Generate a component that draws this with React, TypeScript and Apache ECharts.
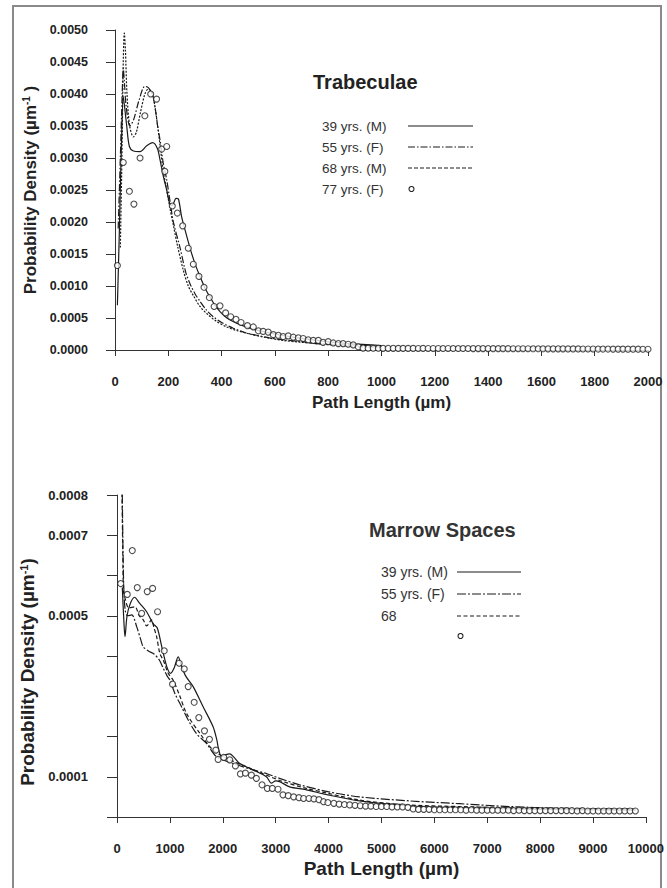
import React, { useEffect, useRef } from "react";
import * as echarts from "echarts";

// ---------- Trabeculae (top panel) ----------
const trabTitle = "Trabeculae";
const trabNames = ["39 yrs. (M)", "55 yrs. (F)", "68 yrs. (M)", "77 yrs. (F)"];
const trabXTicks = [0, 2000, 200];
const trabYTicks = [0, 0.005, 0.0005];

const trab39M: [number, number][] = [
  [9, 0.0007], [16, 0.0018], [24, 0.0032], [31, 0.00396], [36, 0.0038], [44, 0.0035], [54, 0.00318],
  [69, 0.00311], [94, 0.0031], [119, 0.00319], [141, 0.00324], [159, 0.00315], [169, 0.00297],
  [181, 0.00272], [194, 0.0025], [206, 0.00228], [215, 0.00226], [229, 0.00237], [238, 0.00236],
  [250, 0.00208], [260, 0.00192], [281, 0.0016], [300, 0.00135], [319, 0.00115], [340, 0.00095],
  [356, 0.00083], [375, 0.0007], [394, 0.0006], [420, 0.0005], [456, 0.00042], [500, 0.00035],
  [544, 0.0003], [600, 0.00025], [656, 0.00021], [720, 0.00017], [781, 0.00014], [881, 0.0001],
  [1000, 0.00007],
];
const trab55F: [number, number][] = [
  [12, 0.0019], [20, 0.003], [27, 0.004], [31, 0.0044], [35, 0.0042], [42, 0.0038], [56, 0.0035],
  [70, 0.0036], [90, 0.0039], [112, 0.00412], [125, 0.0041], [140, 0.004], [150, 0.0038],
  [160, 0.0035], [169, 0.00328], [181, 0.00292], [194, 0.00266], [206, 0.00234], [219, 0.002],
  [244, 0.0016], [265, 0.00122], [281, 0.00104], [300, 0.00088], [319, 0.00076], [344, 0.00062],
  [369, 0.00052], [400, 0.00043], [444, 0.00034], [490, 0.00027], [531, 0.00023], [580, 0.00019],
  [631, 0.00016], [700, 0.00013], [756, 0.0001], [881, 0.00008], [1000, 0.00006],
];
const trab68M: [number, number][] = [
  [20, 0.0016], [26, 0.003], [31, 0.0045], [35, 0.00495], [39, 0.0047], [45, 0.004], [55, 0.0035],
  [69, 0.00333], [80, 0.0034], [95, 0.0037], [112, 0.004], [125, 0.00408], [140, 0.004],
  [150, 0.0038], [160, 0.0035], [169, 0.0032], [181, 0.0028], [194, 0.0025], [206, 0.00222],
  [219, 0.00195], [235, 0.00162], [256, 0.00125], [275, 0.001], [294, 0.00085], [319, 0.00068],
  [344, 0.00057], [380, 0.00045], [419, 0.00036], [460, 0.0003], [506, 0.00025], [560, 0.0002],
  [631, 0.00015], [700, 0.00012], [756, 0.0001], [881, 0.00006], [1000, 0.00004],
];
const trab77F: [number, number][] = [
  [9, 0.00132], [31, 0.00293], [54, 0.00248], [71, 0.00228], [94, 0.003], [112, 0.00366],
  [134, 0.004], [156, 0.00392], [175, 0.00314], [187, 0.00279], [194, 0.00318], [215, 0.00225],
  [234, 0.00214], [254, 0.00194], [275, 0.00159], [294, 0.00134], [315, 0.00115], [334, 0.00098],
  [354, 0.00082], [372, 0.00068], [394, 0.00069], [415, 0.00058], [434, 0.00052], [454, 0.00048],
  [473, 0.00043], [497, 0.00038], [519, 0.00036], [538, 0.0003], [556, 0.00029], [575, 0.00028],
  [594, 0.00024], [613, 0.00023], [631, 0.00021], [650, 0.00022], [669, 0.0002], [688, 0.00019],
  [706, 0.00018], [725, 0.00016], [744, 0.00015], [763, 0.00015], [781, 0.00012], [800, 0.00013],
  [819, 0.00011], [838, 0.0001], [856, 0.0001], [875, 0.00009], [894, 0.00008], [913, 0.00005],
  [931, 0.00003], [950, 0.000028], [969, 0.000027], [988, 0.000027], [1006, 0.000026],
  [1025, 0.000026], [1044, 0.000026], [1063, 0.000025], [1081, 0.000025], [1100, 0.000025],
  [1119, 0.000025], [1138, 0.000024], [1156, 0.000025], [1175, 0.000024], [1194, 0.000024],
  [1213, 0.000024], [1231, 0.000023], [1250, 0.000024], [1269, 0.000023], [1288, 0.000023],
  [1306, 0.000023], [1325, 0.000023], [1344, 0.000022], [1363, 0.000022], [1381, 0.000022],
  [1400, 0.000022], [1419, 0.000021], [1438, 0.000021], [1456, 0.000021], [1475, 0.000021],
  [1494, 0.00002], [1513, 0.00002], [1531, 0.00002], [1550, 0.00002], [1569, 0.000019],
  [1588, 0.000019], [1606, 0.000019], [1625, 0.000018], [1644, 0.000018], [1663, 0.000018],
  [1681, 0.000018], [1700, 0.000017], [1719, 0.000017], [1738, 0.000017], [1756, 0.000016],
  [1775, 0.000016], [1794, 0.000016], [1813, 0.000015], [1831, 0.000015], [1850, 0.000015],
  [1869, 0.000014], [1888, 0.000014], [1906, 0.000014], [1925, 0.000013], [1944, 0.000013],
  [1963, 0.000013], [1981, 0.000012], [2000, 0.000012],
];

// ---------- Marrow spaces (bottom panel) ----------
const marrowTitle = "Marrow Spaces";
const marrowNames = ["39 yrs. (M)", "55 yrs. (F)", "68", ""];
const marrowXTicks = [0, 10000, 1000];
const marrowYTicks = [0, 0.0008, 0.0001];
const marrowYLabels = ["0.0008", "0.0007", "0.0005", "0.0001"];

const marrow39M: [number, number][] = [
  [100, 0.00057], [125, 0.0005], [151, 0.000448], [190, 0.0005], [250, 0.00053], [330, 0.000546],
  [434, 0.00053], [560, 0.00051], [685, 0.00048], [760, 0.00047], [843, 0.000425], [938, 0.000375],
  [1013, 0.000357], [1080, 0.00037], [1157, 0.000398], [1220, 0.000375], [1300, 0.00035],
  [1440, 0.000324], [1628, 0.000274], [1817, 0.000224], [1890, 0.00019], [1911, 0.000175],
  [1975, 0.00015], [2060, 0.000155], [2132, 0.000157], [2200, 0.00015], [2321, 0.000133],
  [2572, 0.000117], [2824, 0.0001], [2918, 0.000084], [3000, 0.00009], [3075, 0.000088],
  [3264, 0.000075], [3566, 0.000068], [3987, 0.000055], [4585, 0.00004], [5528, 0.000028],
  [6500, 0.000023], [7500, 0.00002], [8500, 0.000018], [9800, 0.000017],
];
const marrow55F: [number, number][] = [
  [85, 0.00095], [100, 0.0008], [115, 0.00065], [132, 0.000556], [160, 0.00051], [200, 0.0005],
  [280, 0.000502], [372, 0.000473], [450, 0.00044], [496, 0.000423], [600, 0.000412],
  [700, 0.000405], [800, 0.00039], [874, 0.00037], [950, 0.00035], [1000, 0.00034],
  [1094, 0.000307], [1220, 0.000274], [1346, 0.000241], [1503, 0.000207], [1692, 0.000183],
  [1881, 0.00015], [2195, 0.000133], [2572, 0.000117], [2824, 0.000108], [3075, 0.000096],
  [3453, 0.00008], [3987, 0.000063], [4585, 0.00005], [5528, 0.00004], [6472, 0.000033],
  [7415, 0.000026], [8358, 0.000022], [9805, 0.00002],
];
const marrow68: [number, number][] = [
  [80, 0.00095], [95, 0.0008], [110, 0.00065], [125, 0.00056], [160, 0.00054], [220, 0.00052],
  [340, 0.000522], [420, 0.0005], [496, 0.00049], [560, 0.000475], [600, 0.00048], [650, 0.00049],
  [700, 0.00047], [749, 0.000448], [811, 0.000406], [874, 0.00039], [968, 0.000357],
  [1062, 0.00034], [1189, 0.0003], [1315, 0.000257], [1566, 0.000208], [1817, 0.000166],
  [2070, 0.000146], [2447, 0.000125], [2824, 0.000104], [3138, 0.000088], [3579, 0.000071],
  [3987, 0.000059], [4585, 0.000042], [5500, 0.00003], [6472, 0.000026], [8358, 0.00002],
  [9805, 0.000019],
];
const marrowCircles: [number, number][] = [
  [70, 0.00058], [194, 0.000553], [289, 0.000662], [383, 0.00057], [466, 0.000506], [572, 0.00056],
  [673, 0.000568], [767, 0.00051], [893, 0.000413], [1050, 0.00033], [1176, 0.000382],
  [1271, 0.000368], [1346, 0.000324], [1459, 0.000285], [1547, 0.000247], [1654, 0.000214],
  [1748, 0.000193], [1868, 0.000166], [1912, 0.000143], [2019, 0.000148], [2132, 0.000142],
  [2239, 0.000127], [2334, 0.000107], [2428, 0.000109], [2541, 0.000104], [2635, 0.000096],
  [2742, 0.00008], [2843, 0.000071], [2937, 0.000071], [3044, 0.000069], [3138, 0.000055],
  [3238, 0.000053], [3340, 0.00005], [3440, 0.000048], [3528, 0.000046], [3629, 0.000046],
  [3723, 0.000045], [3818, 0.000043], [3906, 0.000038], [3987, 0.000036], [4100, 0.000034],
  [4200, 0.000032], [4300, 0.000031], [4400, 0.00003], [4500, 0.000029], [4600, 0.000028],
  [4700, 0.000027], [4800, 0.000027], [4900, 0.000026], [5000, 0.000026], [5100, 0.000026],
  [5200, 0.000025], [5300, 0.000025], [5400, 0.000025], [5500, 0.000024], [5600, 0.00002],
  [5700, 0.000019], [5800, 0.000019], [5900, 0.000019], [6000, 0.000018], [6100, 0.000018],
  [6200, 0.000018], [6300, 0.000018], [6400, 0.000018], [6500, 0.000018], [6600, 0.000017],
  [6700, 0.000018], [6800, 0.000017], [6900, 0.000017], [7000, 0.000017], [7100, 0.000017],
  [7200, 0.000017], [7300, 0.000017], [7400, 0.000017], [7500, 0.000016], [7600, 0.000017],
  [7700, 0.000016], [7800, 0.000016], [7900, 0.000016], [8000, 0.000016], [8100, 0.000016],
  [8200, 0.000016], [8300, 0.000016], [8400, 0.000016], [8500, 0.000016], [8600, 0.000016],
  [8700, 0.000015], [8800, 0.000016], [8900, 0.000015], [9000, 0.000015], [9100, 0.000015],
  [9200, 0.000015], [9300, 0.000015], [9400, 0.000015], [9500, 0.000015], [9600, 0.000015],
  [9700, 0.000015], [9800, 0.000015],
];

const FONT = "'Liberation Sans', Arial, Helvetica, sans-serif";
const INK = "#1a1a1a";
const DASHDOT_T = [7, 2, 1.5, 2];
const DOTTED_T = [2, 1.5];
const DASHDOT_M = [9, 2, 2, 2];
const DASHED_M = [4, 2.5];

function lineSeries(name: string, data: [number, number][], idx: number, dash: any) {
  return {
    type: "line",
    name,
    xAxisIndex: idx,
    yAxisIndex: idx,
    data,
    smooth: 0.3,
    symbol: "none",
    showSymbol: false,
    clip: true,
    lineStyle: { color: INK, width: 1.2, type: dash },
    z: 3,
  };
}
function circleSeries(name: string, data: [number, number][], idx: number) {
  return {
    type: "scatter",
    name,
    xAxisIndex: idx,
    yAxisIndex: idx,
    data,
    symbol: "circle",
    symbolSize: 6,
    clip: true,
    itemStyle: { color: "#ffffff", borderColor: "#222", borderWidth: 1.1 },
    z: 4,
  };
}

function legendBlock(names: string[], tx: number, lx1: number, lx2: number, ys: number[],
  dashes: any[], fontSize: number) {
  const els: any[] = [];
  names.forEach((n, i) => {
    if (n) {
      els.push({
        type: "text",
        x: tx,
        y: ys[i],
        style: { text: n, fontFamily: FONT, fontSize, fill: "#333", textAlign: "left", textVerticalAlign: "middle" },
      });
    }
    if (i < 3) {
      els.push({
        type: "line",
        shape: { x1: lx1, y1: ys[i], x2: lx2, y2: ys[i] },
        style: { stroke: INK, lineWidth: 1.2, lineDash: dashes[i] },
      });
    } else {
      els.push({
        type: "circle",
        shape: { cx: lx1 + 3.5, cy: ys[i], r: 2.5 },
        style: { fill: "#fff", stroke: "#222", lineWidth: 1.1 },
      });
    }
  });
  return els;
}

export default function App() {
  const ref = useRef<HTMLDivElement>(null);
  useEffect(() => {
    if (!ref.current) return;
    const chart = echarts.init(ref.current, undefined, { renderer: "svg" });
    const axisLineStyle = { color: "#333", width: 1 };
    const plain = (v: number) => String(v);
    const yName = (fs: number) => ({
      fontFamily: FONT,
      color: "#222",
      rich: {
        a: { fontFamily: FONT, fontSize: fs, fontWeight: "bold", color: "#222" },
        s: { fontFamily: FONT, fontSize: Math.round(fs * 0.6), fontWeight: "bold", color: "#222", verticalAlign: "top" },
      },
    });
    const option: any = {
      animation: false,
      backgroundColor: "#ffffff",
      grid: [
        { left: 115, right: 19, top: 30, bottom: 538 },
        { left: 117, right: 20, top: 495, bottom: 71 },
      ],
      xAxis: [
        {
          gridIndex: 0, type: "value", min: trabXTicks[0], max: trabXTicks[1], interval: trabXTicks[2], offset: 15,
          axisLine: { show: true, lineStyle: axisLineStyle },
          axisTick: { show: true, length: 6, lineStyle: axisLineStyle },
          axisLabel: { margin: 10, fontFamily: FONT, fontWeight: "bold", fontSize: 13, color: "#222", formatter: plain },
          splitLine: { show: false },
          name: "Path Length (µm)", nameLocation: "middle", nameGap: 29,
          nameTextStyle: { fontFamily: FONT, fontWeight: "bold", fontSize: 17, color: "#222" },
        },
        {
          gridIndex: 1, type: "value", min: marrowXTicks[0], max: marrowXTicks[1], interval: marrowXTicks[2], offset: 15,
          axisLine: { show: true, lineStyle: axisLineStyle },
          axisTick: { show: true, length: 6, lineStyle: axisLineStyle },
          axisLabel: { margin: 10, fontFamily: FONT, fontWeight: "bold", fontSize: 13, color: "#222", formatter: plain },
          splitLine: { show: false },
          name: "Path Length (µm)", nameLocation: "middle", nameGap: 27,
          nameTextStyle: { fontFamily: FONT, fontWeight: "bold", fontSize: 19, color: "#222" },
        },
      ],
      yAxis: [
        {
          gridIndex: 0, type: "value", min: trabYTicks[0], max: trabYTicks[1], interval: trabYTicks[2], offset: 15,
          axisLine: { show: true, lineStyle: axisLineStyle },
          axisTick: { show: true, length: 9, lineStyle: axisLineStyle },
          axisLabel: { margin: 12, fontFamily: FONT, fontWeight: "bold", fontSize: 12.5, color: "#222",
            formatter: (v: number) => v.toFixed(4) },
          splitLine: { show: false },
          name: "{a|Probability Density (µm}{s|-1}{a| )}", nameLocation: "middle", nameGap: 60,
          nameTextStyle: yName(17),
        },
        {
          gridIndex: 1, type: "value", min: marrowYTicks[0], max: marrowYTicks[1], interval: marrowYTicks[2], offset: 14,
          axisLine: { show: true, lineStyle: axisLineStyle },
          axisTick: { show: true, length: 10, lineStyle: axisLineStyle },
          axisLabel: { margin: 15, fontFamily: FONT, fontWeight: "bold", fontSize: 13, color: "#222",
            formatter: (v: number) => {
              const s = v.toFixed(4);
              return marrowYLabels.indexOf(s) >= 0 ? s : "";
            } },
          splitLine: { show: false },
          name: "{a|Probability Density (µm}{s|-1}{a|)}", nameLocation: "middle", nameGap: 62,
          nameTextStyle: { ...yName(19), padding: [0, 32, 0, 0] },
        },
      ],
      series: [
        lineSeries(trabNames[0], trab39M, 0, "solid"),
        lineSeries(trabNames[1], trab55F, 0, DASHDOT_T),
        lineSeries(trabNames[2], trab68M, 0, DOTTED_T),
        circleSeries(trabNames[3], trab77F, 0),
        lineSeries(marrowNames[0], marrow39M, 1, "solid"),
        lineSeries(marrowNames[1], marrow55F, 1, DASHDOT_M),
        lineSeries("68 (dashed)", marrow68, 1, DASHED_M),
        circleSeries("circles", marrowCircles, 1),
      ],
      graphic: [
        {
          type: "rect", z: -10, silent: true,
          shape: { x: 13, y: 6, width: 648, height: 900 },
          style: { fill: "none", stroke: "#8a8a8a", lineWidth: 2 },
        },
        {
          type: "text", x: 313, y: 82,
          style: { text: trabTitle, fontFamily: FONT, fontSize: 20, fontWeight: "bold", fill: "#222", textAlign: "left", textVerticalAlign: "middle" },
        },
        {
          type: "text", x: 369, y: 530,
          style: { text: marrowTitle, fontFamily: FONT, fontSize: 20, fontWeight: "bold", fill: "#333", textAlign: "left", textVerticalAlign: "middle" },
        },
        ...legendBlock(trabNames, 322, 408, 473, [126, 147, 168, 189], ["solid", DASHDOT_T, [4, 2], null], 13.5),
        ...legendBlock(marrowNames, 381, 457, 521, [572, 594, 616, 636], ["solid", DASHDOT_M, DASHED_M, null], 14),
      ],
    };
    chart.setOption(option);
    return () => chart.dispose();
  }, []);
  return <div ref={ref} style={{ position: "absolute", left: 0, top: 0, width: 667, height: 888 }} />;
}
